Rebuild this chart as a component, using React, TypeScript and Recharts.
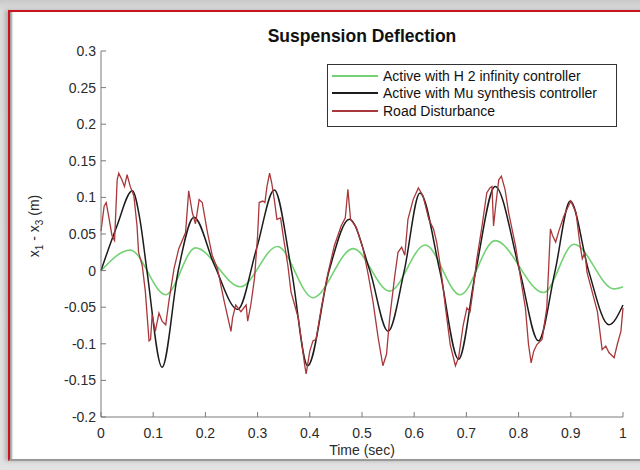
import { LineChart, Line, XAxis, YAxis, Legend } from "recharts"

const font = "'Liberation Sans', Arial, sans-serif"
const frame = "#7a7a7a"
const textColor = "#2b2b2b"

const xTicks = [0, 0.1, 0.2, 0.3, 0.4, 0.5, 0.6, 0.7, 0.8, 0.9, 1]
const yTicks = [-0.2, -0.15, -0.1, -0.05, 0, 0.05, 0.1, 0.15, 0.2, 0.25, 0.3]

const seriesNames = [
	"Active with H 2 infinity controller",
	"Active with Mu synthesis controller",
	"Road Disturbance",
]
const seriesColors = ["#74d174", "#1c1c1c", "#a8383b"]

// H2 infinity response (green)
const h2Time = [0, 0.056, 0.124, 0.181, 0.267, 0.338, 0.406, 0.483, 0.553, 0.621, 0.688, 0.755, 0.848, 0.906, 0.983, 1.0]
const h2Value = [0, 0.028, -0.033, 0.031, -0.022, 0.033, -0.037, 0.03, -0.028, 0.035, -0.033, 0.041, -0.03, 0.036, -0.025, -0.022]

// Mu synthesis response (black)
const muTime = [
	0, 0.03, 0.06, 0.075, 0.088, 0.117, 0.148, 0.178, 0.217, 0.262, 0.298, 0.332, 0.365, 0.396, 0.437, 0.476,
	0.515, 0.55, 0.581, 0.611, 0.649, 0.685, 0.718, 0.755, 0.802, 0.838, 0.87, 0.899, 0.934, 0.973, 1.0,
]
const muValue = [
	0, 0.06, 0.109, 0.068, 0, -0.132, 0, 0.073, 0.008, -0.053, 0.03, 0.11, 0, -0.13, 0, 0.07,
	0, -0.083, 0, 0.106, 0, -0.121, 0, 0.115, 0, -0.096, 0, 0.095, 0, -0.074, -0.047,
]

// road disturbance (red)
const roadTime = [
	0, 0.006, 0.01, 0.015, 0.021, 0.026, 0.031, 0.034, 0.04, 0.045, 0.05, 0.056, 0.063, 0.069, 0.072, 0.079,
	0.085, 0.092, 0.095, 0.098, 0.104, 0.111, 0.117, 0.124, 0.13, 0.14, 0.149, 0.162, 0.168, 0.175, 0.181, 0.188,
	0.194, 0.204, 0.213, 0.223, 0.236, 0.249, 0.252, 0.258, 0.268, 0.278, 0.281, 0.287, 0.294, 0.3, 0.303, 0.31,
	0.314, 0.318, 0.323, 0.327, 0.332, 0.337, 0.344, 0.35, 0.358, 0.364, 0.371, 0.378, 0.385, 0.39, 0.393, 0.4,
	0.406, 0.412, 0.422, 0.434, 0.447, 0.46, 0.468, 0.473, 0.478, 0.489, 0.495, 0.502, 0.512, 0.521, 0.531, 0.54,
	0.547, 0.553, 0.563, 0.569, 0.576, 0.582, 0.588, 0.598, 0.608, 0.617, 0.628, 0.637, 0.643, 0.648, 0.654, 0.66,
	0.669, 0.679, 0.685, 0.694, 0.701, 0.707, 0.714, 0.72, 0.73, 0.739, 0.745, 0.749, 0.752, 0.756, 0.762, 0.767,
	0.774, 0.781, 0.794, 0.806, 0.813, 0.819, 0.824, 0.829, 0.835, 0.845, 0.854, 0.861, 0.865, 0.871, 0.877, 0.887,
	0.9, 0.91, 0.917, 0.922, 0.927, 0.931, 0.941, 0.951, 0.96, 0.967, 0.973, 0.983, 0.989, 0.996, 1.0,
]
const roadValue = [
	0.054, 0.088, 0.093, 0.073, 0.048, 0.041, 0.124, 0.133, 0.124, 0.115, 0.131, 0.115, 0.102, 0.061, 0.025, 0.007,
	-0.029, -0.096, -0.094, -0.06, -0.083, -0.058, -0.069, -0.074, -0.042, 0.003, 0.03, 0.052, 0.109, 0.079, 0.064, 0.097,
	0.093, 0.052, 0.021, 0.003, -0.042, -0.083, -0.065, -0.047, -0.056, -0.047, -0.069, -0.047, -0.011, 0.048, 0.093, 0.095,
	0.093, 0.115, 0.133, 0.12, 0.097, 0.07, 0.072, 0.043, 0.007, -0.029, -0.047, -0.065, -0.101, -0.128, -0.141, -0.11,
	-0.096, -0.094, -0.051, -0.006, 0.034, 0.061, 0.072, 0.111, 0.07, 0.059, 0.046, 0.03, -0.006, -0.042, -0.092, -0.13,
	-0.114, -0.065, -0.006, 0.025, 0.032, 0.021, 0.07, 0.097, 0.113, 0.102, 0.07, 0.057, 0.039, 0.016, -0.015, -0.051,
	-0.101, -0.13, -0.119, -0.074, -0.051, -0.056, -0.02, 0.016, 0.061, 0.106, 0.113, 0.115, 0.061, 0.088, 0.124, 0.129,
	0.111, 0.079, 0.034, -0.02, -0.051, -0.101, -0.126, -0.11, -0.101, -0.094, -0.051, 0.057, 0.048, 0.039, 0.054, 0.075,
	0.095, 0.079, 0.039, 0.016, 0.025, -0.002, -0.029, -0.056, -0.108, -0.103, -0.112, -0.119, -0.101, -0.083, -0.051,
]

const toRows = (ts: number[], vs: number[]) => ts.map((t, i) => ({ t, v: vs[i] }))

const h2Data = toRows(h2Time, h2Value)
const muData = toRows(muTime, muValue)
const roadData = toRows(roadTime, roadValue)

const tickText = { fontFamily: font, fontSize: 14, fill: textColor }

const LeftTick = ({ x, y, payload }: any) => (
	<g>
		<line x1={x} x2={x + 5} y1={y} y2={y} stroke={frame} />
		<text x={x - 5} y={y} dy="0.35em" textAnchor="end" {...tickText}>
			{payload.value}
		</text>
	</g>
)

const RightTick = ({ x, y }: any) => <line x1={x - 5} x2={x} y1={y} y2={y} stroke={frame} />

const BottomTick = ({ x, y, payload }: any) => (
	<g>
		<line x1={x} x2={x} y1={y - 5} y2={y} stroke={frame} />
		<text x={x} y={y + 21} textAnchor="middle" {...tickText}>
			{payload.value}
		</text>
	</g>
)

const TopTick = ({ x, y }: any) => <line x1={x} x2={x} y1={y} y2={y + 5} stroke={frame} />

const YLabel = ({ viewBox }: any) => {
	const cx = viewBox.x - 2
	const cy = viewBox.y + viewBox.height / 2 - 8
	return (
		<text
			x={cx}
			y={cy}
			transform={`rotate(-90, ${cx}, ${cy})`}
			textAnchor="middle"
			fontFamily={font}
			fontSize={14}
			fill={textColor}
		>
			x<tspan fontSize={10} dy={4}>1</tspan>
			<tspan dy={-4}> - x</tspan>
			<tspan fontSize={10} dy={4}>3</tspan>
			<tspan dy={-4}> (m)</tspan>
		</text>
	)
}

const LegendBox = () => (
	<div
		style={{
			border: "1px solid #333",
			background: "#fff",
			height: 63,
			boxSizing: "border-box",
			paddingTop: 2,
			fontFamily: font,
			fontSize: 14,
			color: "#111",
		}}
	>
		{seriesNames.map((name, i) => (
			<div key={name} style={{ display: "flex", alignItems: "center", height: 17.5 }}>
				<span
					style={{
						display: "inline-block",
						width: 46,
						height: 2,
						marginLeft: 4,
						marginRight: 5,
						background: seriesColors[i],
					}}
				/>
				<span style={{ whiteSpace: "nowrap" }}>{name}</span>
			</div>
		))}
	</div>
)

function App() {
	return (
		<div
			style={{
				position: "absolute",
				left: 0,
				top: 0,
				width: 640,
				height: 470,
				overflow: "hidden",
				background: "linear-gradient(#c9c9c9, #dcdcdc 10px, #e2e2e2)",
			}}
		>
			<div
				style={{
					position: "absolute",
					left: 8,
					top: 10,
					width: 640,
					height: 451,
					background: "#fff",
					borderTop: "2px solid #c8141c",
					borderLeft: "2px solid #c8141c",
					borderBottom: "2px solid #9a9a9a",
					boxShadow: "inset 3px 0 2px -1px #9c9c9c, -3px 0 4px #b0b0b0",
					boxSizing: "border-box",
				}}
			/>
			<div
				style={{
					position: "absolute",
					left: 101,
					width: 522,
					top: 26,
					textAlign: "center",
					fontFamily: font,
					fontWeight: "bold",
					fontSize: 17.5,
					color: "#111",
				}}
			>
				Suspension Deflection
			</div>
			<div style={{ position: "absolute", left: 0, top: 0 }}>
				<LineChart width={640} height={470} margin={{ top: 51, right: 17, bottom: 13, left: 41 }}>
					<XAxis
						dataKey="t"
						type="number"
						domain={[0, 1]}
						ticks={xTicks}
						interval={0}
						tickSize={0}
						tickMargin={0}
						tickLine={false}
						height={40}
						axisLine={{ stroke: frame }}
						tick={<BottomTick />}
						label={{
							value: "Time (sec)",
							position: "insideBottom",
							offset: 2,
							style: { fontFamily: font, fontSize: 14, fill: textColor },
						}}
					/>
					<XAxis
						xAxisId="top"
						orientation="top"
						type="number"
						domain={[0, 1]}
						ticks={xTicks}
						interval={0}
						tickSize={0}
						tickMargin={0}
						tickLine={false}
						height={0}
						axisLine={{ stroke: frame }}
						tick={<TopTick />}
					/>
					<YAxis
						type="number"
						domain={[-0.2, 0.3]}
						ticks={yTicks}
						interval={0}
						tickSize={0}
						tickMargin={0}
						tickLine={false}
						width={60}
						axisLine={{ stroke: frame }}
						tick={<LeftTick />}
						label={{ content: <YLabel /> }}
					/>
					<YAxis
						yAxisId="right"
						orientation="right"
						type="number"
						domain={[-0.2, 0.3]}
						ticks={yTicks}
						interval={0}
						tickSize={0}
						tickMargin={0}
						tickLine={false}
						width={0}
						axisLine={{ stroke: frame }}
						tick={<RightTick />}
					/>
					<Legend
						layout="vertical"
						verticalAlign="middle"
						align="center"
						content={<LegendBox />}
						wrapperStyle={{ left: 327, top: 64, width: 290, height: 63 }}
					/>
					<Line
						data={h2Data}
						dataKey="v"
						name={seriesNames[0]}
						type="monotone"
						stroke={seriesColors[0]}
						strokeWidth={1.6}
						dot={false}
						isAnimationActive={false}
					/>
					<Line
						data={muData}
						dataKey="v"
						name={seriesNames[1]}
						type="monotone"
						stroke={seriesColors[1]}
						strokeWidth={1.5}
						dot={false}
						isAnimationActive={false}
					/>
					<Line
						data={roadData}
						dataKey="v"
						name={seriesNames[2]}
						type="linear"
						stroke={seriesColors[2]}
						strokeWidth={1.3}
						dot={false}
						isAnimationActive={false}
					/>
				</LineChart>
			</div>
		</div>
	)
}

export default App
